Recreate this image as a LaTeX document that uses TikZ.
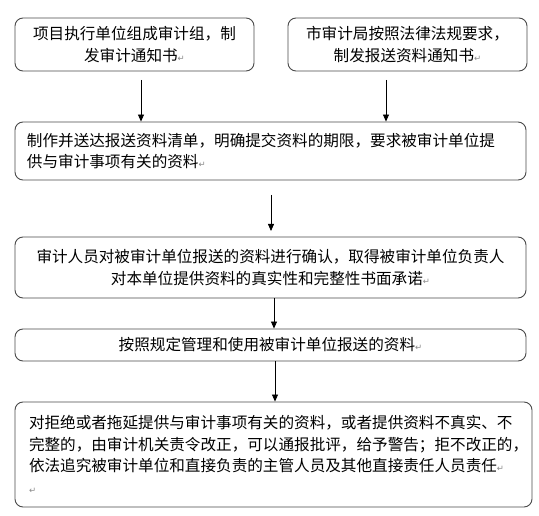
\documentclass[tikz,border=0pt]{standalone}
\usepackage{fontspec}
\newfontfamily\cjk{Noto Sans CJK SC}
\newfontfamily\dvs{DejaVu Sans}
\usetikzlibrary{arrows.meta}
\definecolor{boxgray}{HTML}{4A4A4A}
\definecolor{markgray}{HTML}{8A8A8A}
\newcommand{\pmark}{{\dvs\fontsize{8.5}{8.5}\selectfont\textcolor{markgray}{↵}}}
\begin{document}
\begin{tikzpicture}[x=1pt,y=-1pt,
  box/.style={draw=boxgray, line width=0.9pt, rounded corners=8pt, inner sep=0pt,
    font=\cjk\fontsize{15.6}{21.5}\selectfont},
  arr/.style={-{Triangle[length=7pt,width=6pt]}, line width=0.8pt, black}]
\fill[white] (0,0) rectangle (539,516);
\useasboundingbox (0,0) rectangle (539,516);

\node[box, minimum width=239pt, minimum height=53pt, text width=225pt, align=center] (b1) at (134.5,44.5)
  {项目执行单位组成审计组，制\\发审计通知书\pmark};
\node[box, minimum width=239pt, minimum height=53pt, text width=225pt, align=center] (b2) at (407.5,44.5)
  {市审计局按照法律法规要求，\\制发报送资料通知书\pmark};
\node[box, minimum width=511pt, minimum height=58pt, text width=487pt, align=left] (b3) at (270.5,151)
  {制作并送达报送资料清单，明确提交资料的期限，要求被审计单位提\\供与审计事项有关的资料\pmark};
\node[box, minimum width=511pt, minimum height=61pt, text width=500pt, align=center] (b4) at (270.5,267.5)
  {审计人员对被审计单位报送的资料进行确认，取得被审计单位负责人\\对本单位提供资料的真实性和完整性书面承诺\pmark};
\node[box, minimum width=511pt, minimum height=32pt, text width=500pt, align=center] (b5) at (270.5,345)
  {按照规定管理和使用被审计单位报送的资料\pmark};
\node[box, minimum width=517pt, minimum height=105pt, text width=489pt, align=left] (b6) at (273.5,454.5)
  {对拒绝或者拖延提供与审计事项有关的资料，或者提供资料不真实、不\\完整的，由审计机关责令改正，可以通报批评，给予警告；拒不改正的，\\依法追究被审计单位和直接负责的主管人员及其他直接责任人员责任\pmark\\\pmark};

\coordinate (a1) at (141,80);
\coordinate (a2) at (386,80);
\draw[arr] (a1) -- (a1 |- b3.north);
\draw[arr] (a2) -- (a2 |- b3.north);
\coordinate (a3s) at (271,195);
\coordinate (a3e) at (271,231);
\draw[arr] (a3s) -- (a3e);
\coordinate (a4) at (274,0);
\draw[arr] (a4 |- b4.south) -- (a4 |- b5.north);
\coordinate (a5) at (275,0);
\draw[arr] (a5 |- b5.south) -- (a5 |- b6.north);
\end{tikzpicture}
\end{document}
